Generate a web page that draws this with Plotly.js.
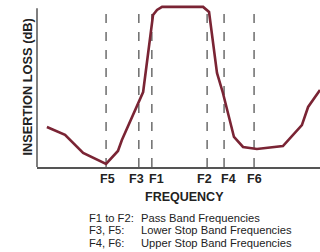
<!DOCTYPE html>
<html><head><meta charset="utf-8">
<script src="https://cdn.plot.ly/plotly-3.0.1.min.js"></script>
<style>html,body{margin:0;padding:0;background:#fff}#c{width:320px;height:252px}</style>
</head><body><div id="c"></div>
<script>
// Frequency (arbitrary units) and insertion-loss curve (arbitrary units)
var freq = [3.5, 9.9, 16.3, 21.2, 24.4, 28.6, 30.0, 37.5, 41.0, 42.4, 44.2, 58.7, 60.8, 63.6, 65.7, 69.6, 72.8, 77.7, 86.9, 93.6, 95.8, 100];
var loss = [25.2, 20.2, 8.8, 4.4, 1.9, 10.1, 17.0, 47.2, 95.7, 98.9, 100.8, 100.8, 97.6, 59.2, 46.6, 18.9, 12.6, 11.3, 13.2, 26.4, 37.8, 48.5];
// Marker frequencies
var markerPos = [24.4, 36.0, 40.6, 60.1, 66.1, 76.7];
var markerLabels = ["F5", "F3", "F1", "F2", "F4", "F6"];
// Notes
var noteKeys = ["F1 to F2:", "F3, F5:", "F4, F6:"];
var noteTexts = ["Pass Band Frequencies", "Lower Stop Band Frequencies", "Upper Stop Band Frequencies"];

var FONT = "Liberation Sans, Arial, sans-serif";
var labelShift = [1, -2, 5, -3, 4, 0]; // pixel nudges of marker labels (style)
var shapes = markerPos.map(function (p) {
  return {type: "line", xref: "x", yref: "y", x0: p, x1: p, y0: 0, y1: 100,
    line: {color: "#222", width: 1, dash: "dash"}, layer: "below"};
});
shapes.push({type: "line", xref: "paper", yref: "y", x0: 0, x1: 0, y0: 0, y1: 100,
  line: {color: "#555", width: 1.5}});

var annotations = [];
markerPos.forEach(function (p, i) {
  annotations.push({xref: "x", yref: "paper", x: p, y: (167 - 179.5) / 162, text: "<b>" + markerLabels[i] + "</b>",
    showarrow: false, xanchor: "center", yanchor: "middle", xshift: labelShift[i],
    font: {family: FONT, size: 12.5, color: "#222"}});
});
var noteY = [218, 230, 242.5];
noteKeys.forEach(function (k, i) {
  var yp = (167 - noteY[i]) / 162;
  annotations.push({xref: "paper", yref: "paper", x: (87 - 37) / 283, y: yp, text: k, showarrow: false,
    xanchor: "left", yanchor: "middle", font: {family: FONT, size: 11.2, color: "#222"}});
  annotations.push({xref: "paper", yref: "paper", x: (139 - 37) / 283, y: yp, text: noteTexts[i], showarrow: false,
    xanchor: "left", yanchor: "middle", font: {family: FONT, size: 11.2, color: "#222"}});
});
annotations.push({xref: "paper", yref: "paper", x: (184 - 37) / 283, y: (167 - 196.5) / 162, text: "<b>FREQUENCY</b>",
  showarrow: false, xanchor: "center", yanchor: "middle",
  font: {family: FONT, size: 12.5, color: "#222"}});
annotations.push({xref: "paper", yref: "paper", x: (26.5 - 37) / 283, y: (167 - 87) / 162, text: "<b>INSERTION LOSS (dB)</b>",
  showarrow: false, xanchor: "center", yanchor: "middle", textangle: -90,
  font: {family: FONT, size: 12.8, color: "#222"}});

Plotly.newPlot("c", [{
  x: freq, y: loss, type: "scatter", mode: "lines",
  line: {color: "#7a2434", width: 2.6}, hoverinfo: "none"
}], {
  width: 320, height: 252,
  margin: {l: 37, r: 0, t: 5, b: 85},
  paper_bgcolor: "#fff", plot_bgcolor: "#fff",
  showlegend: false,
  xaxis: {range: [0, 100], showgrid: false, zeroline: false, showline: true, linecolor: "#555", linewidth: 1.5,
    tickvals: markerPos, showticklabels: false, ticks: ""},
  yaxis: {range: [0, 102], showgrid: false, zeroline: false, showline: false, showticklabels: false, ticks: ""},
  shapes: shapes,
  annotations: annotations
}, {staticPlot: true});
</script></body></html>
